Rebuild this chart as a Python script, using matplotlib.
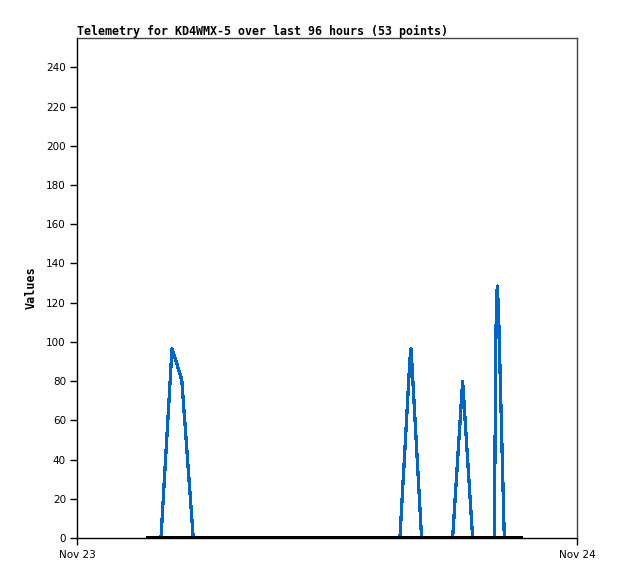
import matplotlib
matplotlib.use('Agg')
import matplotlib.pyplot as plt

# hours after Nov 23 00:00
hours = [3.41, 4.03, 4.56, 4.79, 5.03, 5.58, 15.50, 15.98, 16.03, 16.08, 16.54,
         18.03, 18.51, 18.99, 20.03, 20.11, 20.17, 20.23, 20.51, 21.31]
series_a = [0, 0, 96.5, 89, 80.5, 0, 0, 91, 96.5, 88, 0,
            0, 80, 0, 0, 106, 128.5, 117, 0, 0]
series_b = [0] * len(hours)

x_ticks = [0, 24]
x_labels = ['Nov 23', 'Nov 24']
y_ticks = list(range(0, 241, 20))

fig = plt.figure(figsize=(6.18, 5.79), dpi=100)
ax = fig.add_axes([77 / 618, 41 / 579, 500 / 618, 500 / 579])

ax.plot(hours, series_a, color='#0066cc', linewidth=1.6, antialiased=False)
ax.plot(hours, series_b, color='black', linewidth=1.6, antialiased=False)

ax.set_xlim(0, 24)
ax.set_ylim(0, 255)
ax.set_xticks(x_ticks)
ax.set_xticklabels(x_labels)
ax.set_yticks(y_ticks)
ax.tick_params(axis='both', labelsize=7.5, length=5, width=1, pad=3)
ax.tick_params(axis='x', pad=4)

ax.spines['left'].set_color('black')
ax.spines['bottom'].set_color('black')
ax.spines['top'].set_color('#444444')
ax.spines['right'].set_color('#444444')
for s in ax.spines.values():
    s.set_linewidth(1)

ax.set_ylabel('Values', fontsize=8.5, fontweight='bold', family='DejaVu Sans Mono', labelpad=6)
ax.set_title('Telemetry for KD4WMX-5 over last 96 hours (53 points)', loc='left',
             fontsize=8.35, fontweight='bold', family='DejaVu Sans Mono', pad=2)

fig.savefig('out.png', dpi=100)
